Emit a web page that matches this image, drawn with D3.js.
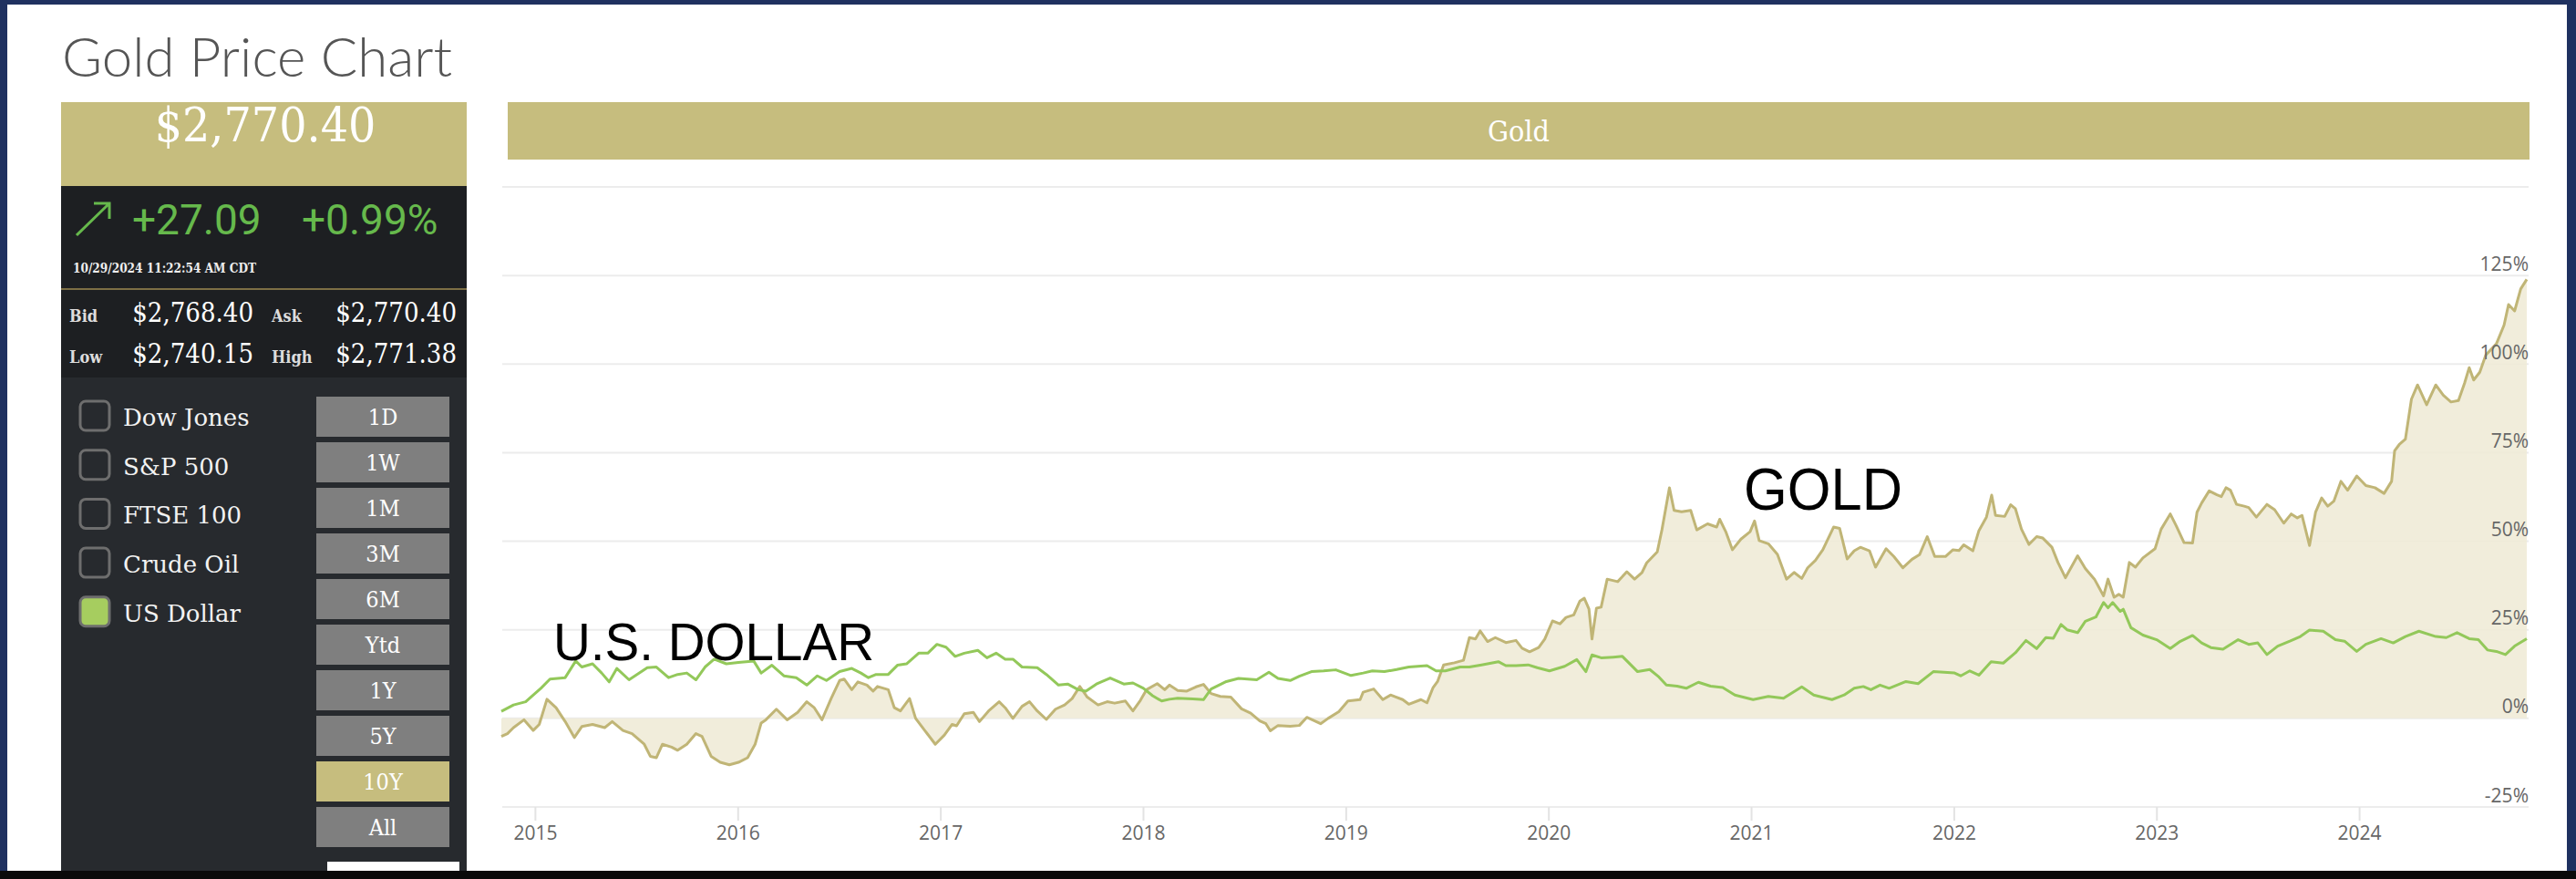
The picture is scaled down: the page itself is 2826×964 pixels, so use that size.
<!DOCTYPE html>
<html>
<head>
<meta charset="utf-8">
<script src="https://cdn.jsdelivr.net/npm/d3@7/dist/d3.min.js"></script>
<style>
  body { margin: 0; background: #1f3160; }
  svg { display: block; }
</style>
</head>
<body>
<svg id="chart"></svg>
<script>
// % change since Oct 2014, [decimal year, pct]
var goldSeries = [
  [2014.834, -5.1], [2014.864, -4.3], [2014.894, -2.6], [2014.946, -0.4], [2014.991, -3.4],
  [2015.021, -1.7], [2015.059, 5.4], [2015.104, 3.0], [2015.149, -0.9], [2015.194, -5.4],
  [2015.231, -2.3], [2015.284, -1.7], [2015.344, -2.6], [2015.381, -0.9], [2015.434, -3.4],
  [2015.479, -4.3], [2015.539, -7.3], [2015.569, -10.7], [2015.599, -11.1], [2015.629, -7.3],
  [2015.674, -8.1], [2015.704, -9.0], [2015.749, -7.3], [2015.794, -4.3], [2015.824, -5.1],
  [2015.869, -10.7], [2015.914, -12.4], [2015.959, -13.1], [2016.004, -12.4], [2016.049, -11.1],
  [2016.086, -7.3], [2016.116, -1.3], [2016.139, -0.4], [2016.191, 2.6], [2016.244, -0.4],
  [2016.296, 1.7], [2016.341, 4.7], [2016.378, 3.0], [2016.416, -0.4], [2016.461, 5.6],
  [2016.503, 10.7], [2016.525, 11.1], [2016.563, 8.1], [2016.593, 10.3], [2016.638, 9.4],
  [2016.668, 7.7], [2016.690, 9.0], [2016.743, 8.1], [2016.773, 3.0], [2016.803, 2.1],
  [2016.848, 5.6], [2016.878, 0.0], [2016.923, -3.4], [2016.975, -7.3], [2017.020, -4.7],
  [2017.058, -1.7], [2017.080, -2.1], [2017.118, 1.3], [2017.163, 1.7], [2017.193, -0.9],
  [2017.238, 2.1], [2017.290, 4.7], [2017.320, 3.0], [2017.358, 0.0], [2017.403, 3.4],
  [2017.440, 4.7], [2017.478, 2.1], [2017.523, -0.3], [2017.568, 2.6], [2017.613, 3.8],
  [2017.650, 5.6], [2017.688, 9.0], [2017.725, 6.0], [2017.778, 3.8], [2017.823, 4.7],
  [2017.860, 4.3], [2017.913, 4.9], [2017.950, 2.1], [2017.987, 5.1], [2018.017, 8.1],
  [2018.070, 9.8], [2018.107, 8.1], [2018.130, 9.4], [2018.171, 7.9], [2018.216, 7.7],
  [2018.261, 8.9], [2018.298, 9.6], [2018.336, 7.0], [2018.381, 6.2], [2018.433, 6.0],
  [2018.486, 2.7], [2018.531, 1.5], [2018.576, -0.7], [2018.606, -1.5], [2018.628, -3.5],
  [2018.666, -2.0], [2018.726, -2.2], [2018.771, -2.0], [2018.808, 0.3], [2018.876, -1.5],
  [2018.913, 0.0], [2018.966, 1.9], [2019.011, 4.9], [2019.071, 5.3], [2019.086, 7.4],
  [2019.138, 8.3], [2019.183, 5.3], [2019.221, 6.6], [2019.281, 5.3], [2019.311, 4.0],
  [2019.371, 5.3], [2019.401, 4.4], [2019.431, 8.7], [2019.453, 10.4], [2019.483, 15.1],
  [2019.536, 15.7], [2019.581, 16.4], [2019.610, 22.8], [2019.640, 22.4], [2019.663, 24.7],
  [2019.700, 21.7], [2019.738, 22.8], [2019.790, 21.4], [2019.840, 22.0], [2019.870, 19.8],
  [2019.907, 18.8], [2019.952, 20.0], [2019.982, 22.4], [2020.020, 27.5], [2020.057, 26.7],
  [2020.087, 28.5], [2020.125, 29.2], [2020.155, 33.1], [2020.177, 33.9], [2020.200, 30.9],
  [2020.215, 22.4], [2020.237, 31.1], [2020.260, 31.4], [2020.290, 39.3], [2020.342, 38.6],
  [2020.387, 41.4], [2020.425, 39.3], [2020.462, 41.2], [2020.485, 43.9], [2020.537, 47.0],
  [2020.560, 53.2], [2020.597, 65.1], [2020.620, 58.7], [2020.657, 58.3], [2020.702, 58.7],
  [2020.732, 53.2], [2020.785, 54.9], [2020.830, 54.0], [2020.845, 56.2], [2020.875, 52.7],
  [2020.908, 47.6], [2020.950, 50.6], [2020.995, 52.7], [2021.017, 55.7], [2021.040, 50.2],
  [2021.085, 49.3], [2021.130, 46.3], [2021.175, 39.3], [2021.212, 41.2], [2021.250, 39.5],
  [2021.279, 42.5], [2021.317, 44.6], [2021.354, 47.6], [2021.407, 54.0], [2021.437, 53.6],
  [2021.474, 45.0], [2021.509, 47.3], [2021.539, 48.3], [2021.584, 47.3], [2021.614, 42.7],
  [2021.666, 47.9], [2021.704, 45.7], [2021.749, 42.5], [2021.794, 44.9], [2021.831, 46.2],
  [2021.869, 51.3], [2021.906, 45.7], [2021.959, 45.7], [2021.996, 47.6], [2022.026, 47.4],
  [2022.049, 49.0], [2022.094, 47.3], [2022.124, 53.0], [2022.161, 56.8], [2022.187, 63.0],
  [2022.206, 57.3], [2022.251, 57.0], [2022.281, 60.3], [2022.304, 59.2], [2022.334, 53.4],
  [2022.371, 49.1], [2022.409, 51.3], [2022.439, 50.9], [2022.484, 48.3], [2022.514, 44.0],
  [2022.551, 39.7], [2022.611, 45.9], [2022.649, 42.3], [2022.694, 39.3], [2022.739, 34.6],
  [2022.761, 39.3], [2022.791, 34.2], [2022.814, 35.0], [2022.836, 34.2], [2022.866, 44.0],
  [2022.896, 42.7], [2022.933, 45.3], [2022.993, 47.9], [2023.023, 53.4], [2023.068, 57.7],
  [2023.098, 54.3], [2023.136, 49.6], [2023.178, 49.5], [2023.200, 58.2], [2023.223, 60.8],
  [2023.260, 64.2], [2023.298, 63.1], [2023.320, 62.6], [2023.343, 65.1], [2023.365, 64.4],
  [2023.395, 60.4], [2023.433, 59.9], [2023.455, 59.5], [2023.493, 56.8], [2023.545, 60.4],
  [2023.583, 58.9], [2023.628, 55.1], [2023.665, 57.7], [2023.695, 56.6], [2023.718, 57.3],
  [2023.755, 48.8], [2023.785, 58.2], [2023.815, 62.2], [2023.845, 59.9], [2023.875, 61.3],
  [2023.910, 66.9], [2023.943, 64.4], [2023.988, 68.4], [2024.033, 65.7], [2024.078, 65.1],
  [2024.123, 63.5], [2024.160, 66.9], [2024.175, 75.5], [2024.198, 77.3], [2024.228, 78.8],
  [2024.258, 90.1], [2024.288, 94.1], [2024.333, 88.5], [2024.378, 94.1], [2024.415, 91.2],
  [2024.453, 89.3], [2024.490, 89.7], [2024.520, 94.6], [2024.543, 99.0], [2024.565, 95.5],
  [2024.595, 97.7], [2024.625, 102.6], [2024.677, 105.7], [2024.715, 111.0], [2024.737, 116.8],
  [2024.767, 115.0], [2024.797, 121.2], [2024.827, 123.9]
];

var usdSeries = [
  [2014.834, 2.0], [2014.894, 3.8], [2014.954, 4.7], [2015.029, 8.5], [2015.074, 11.1],
  [2015.149, 11.5], [2015.201, 16.2], [2015.231, 14.5], [2015.284, 15.4], [2015.329, 12.8],
  [2015.366, 10.3], [2015.404, 14.1], [2015.464, 10.9], [2015.554, 14.3], [2015.599, 14.5],
  [2015.659, 11.5], [2015.704, 12.4], [2015.749, 12.8], [2015.794, 10.9], [2015.839, 14.5],
  [2015.884, 16.7], [2015.944, 15.4], [2016.004, 15.8], [2016.079, 16.2], [2016.116, 12.8],
  [2016.169, 15.0], [2016.228, 12.0], [2016.289, 11.5], [2016.341, 9.4], [2016.393, 12.0],
  [2016.438, 10.7], [2016.503, 13.2], [2016.563, 14.1], [2016.608, 12.8], [2016.645, 11.5],
  [2016.683, 12.4], [2016.743, 12.4], [2016.788, 15.0], [2016.833, 15.4], [2016.893, 18.4],
  [2016.938, 18.4], [2016.983, 20.9], [2017.028, 20.1], [2017.073, 17.5], [2017.118, 18.4],
  [2017.185, 19.2], [2017.230, 17.1], [2017.275, 18.4], [2017.320, 16.7], [2017.358, 16.7],
  [2017.403, 14.5], [2017.478, 14.3], [2017.523, 12.4], [2017.583, 9.4], [2017.628, 9.7],
  [2017.680, 8.1], [2017.718, 7.7], [2017.770, 9.7], [2017.838, 11.4], [2017.905, 9.7],
  [2017.950, 10.0], [2018.002, 8.5], [2018.047, 6.4], [2018.092, 4.9], [2018.130, 5.4],
  [2018.171, 5.7], [2018.246, 5.5], [2018.298, 5.3], [2018.336, 8.3], [2018.411, 10.4],
  [2018.471, 11.3], [2018.561, 10.9], [2018.621, 13.0], [2018.666, 11.3], [2018.726, 10.7],
  [2018.771, 11.9], [2018.831, 13.2], [2018.891, 13.4], [2018.951, 13.7], [2019.026, 12.1],
  [2019.086, 12.8], [2019.131, 13.4], [2019.191, 13.2], [2019.251, 13.8], [2019.311, 14.5],
  [2019.401, 14.9], [2019.446, 13.4], [2019.491, 13.4], [2019.565, 14.5], [2019.610, 14.5],
  [2019.670, 15.1], [2019.753, 16.0], [2019.790, 14.9], [2019.840, 14.9], [2019.900, 15.1],
  [2019.945, 14.3], [2020.005, 13.4], [2020.080, 14.7], [2020.140, 16.6], [2020.185, 13.2],
  [2020.215, 17.9], [2020.260, 17.1], [2020.320, 17.3], [2020.365, 17.5], [2020.440, 13.2],
  [2020.500, 13.8], [2020.545, 11.7], [2020.582, 9.4], [2020.635, 9.1], [2020.680, 8.5],
  [2020.740, 10.2], [2020.800, 9.1], [2020.860, 8.7], [2020.920, 6.6], [2021.010, 5.3],
  [2021.085, 6.2], [2021.160, 5.7], [2021.250, 8.9], [2021.309, 6.6], [2021.399, 5.3],
  [2021.459, 6.6], [2021.509, 8.5], [2021.554, 9.0], [2021.591, 8.1], [2021.636, 9.4],
  [2021.681, 8.5], [2021.764, 10.4], [2021.824, 9.8], [2021.899, 13.2], [2022.004, 12.8],
  [2022.034, 12.0], [2022.079, 13.4], [2022.124, 12.2], [2022.184, 16.0], [2022.244, 15.6],
  [2022.304, 18.5], [2022.356, 22.0], [2022.409, 19.7], [2022.454, 22.8], [2022.491, 22.6],
  [2022.529, 26.5], [2022.559, 25.0], [2022.611, 24.2], [2022.649, 27.4], [2022.701, 28.6],
  [2022.739, 32.7], [2022.761, 31.2], [2022.784, 32.7], [2022.821, 30.2], [2022.836, 30.8],
  [2022.874, 25.6], [2022.933, 23.5], [2023.001, 22.2], [2023.068, 19.7], [2023.113, 21.6],
  [2023.178, 23.4], [2023.223, 21.3], [2023.268, 20.0], [2023.328, 19.5], [2023.403, 22.2],
  [2023.455, 20.9], [2023.500, 21.3], [2023.545, 18.0], [2023.598, 20.4], [2023.658, 21.8],
  [2023.710, 23.1], [2023.755, 24.9], [2023.823, 24.6], [2023.883, 22.2], [2023.928, 21.8],
  [2023.988, 18.9], [2024.033, 20.9], [2024.108, 22.5], [2024.168, 21.3], [2024.228, 23.1],
  [2024.295, 24.6], [2024.378, 23.1], [2024.430, 22.8], [2024.483, 24.2], [2024.543, 22.5],
  [2024.588, 22.2], [2024.633, 19.3], [2024.677, 18.9], [2024.722, 18.0], [2024.767, 20.4],
  [2024.827, 22.5]
];

var yearTicks = [2015, 2016, 2017, 2018, 2019, 2020, 2021, 2022, 2023, 2024];
var gridTicks = [-25, 0, 25, 50, 75, 100, 125, 150];
var pctLabels = [-25, 0, 25, 50, 75, 100, 125];

var lastPrice = '$2,770.40';
var changeTexts = ['+27.09', '+0.99%'];
var quoteTime = '10/29/2024 11:22:54 AM CDT';
var quoteRows = [
  ['Bid', '$2,768.40', 'Ask', '$2,770.40'],
  ['Low', '$2,740.15', 'High', '$2,771.38']
];
var compareList = ['Dow Jones', 'S&P 500', 'FTSE 100', 'Crude Oil', 'US Dollar'];
var compareOn = ['US Dollar'];
var rangeButtons = ['1D', '1W', '1M', '3M', '6M', 'Ytd', '1Y', '5Y', '10Y', 'All'];
var rangeActive = '10Y';

var svgWidth = 2826, svgHeight = 964;
var gold = '#c6bd7e', green = '#66b94c';
var slab = '"DejaVu Serif Condensed", "DejaVu Serif", serif';

var svg = d3.select('#chart')
    .attr('width', svgWidth)
    .attr('height', svgHeight);

// frame around the screenshot
svg.append('rect').attr('width', svgWidth).attr('height', svgHeight).attr('fill', '#1f3160');
svg.append('rect').attr('x', 8).attr('y', 5).attr('width', 2808).attr('height', 950).attr('fill', '#ffffff');
svg.append('rect').attr('x', 0).attr('y', 955).attr('width', svgWidth).attr('height', 9).attr('fill', '#0a0a0a');

// Title
svg.append('text')
    .attr('x', 68)
    .attr('y', 84)
    .style('font-family', 'Lato')
    .style('font-weight', 300)
    .style('font-size', '60px')
    .attr('fill', '#555')
    .text('Gold Price Chart');

// ---- left quote panel ----
svg.append('rect').attr('x', 67).attr('y', 112).attr('width', 445).attr('height', 92).attr('fill', gold);
svg.append('text')
    .attr('x', 291)
    .attr('y', 155)
    .attr('text-anchor', 'middle')
    .style('font-family', slab)
    .style('font-size', '53px')
    .attr('fill', '#fff')
    .text(lastPrice);

svg.append('rect').attr('x', 67).attr('y', 204).attr('width', 445).attr('height', 210).attr('fill', '#1d1f22');
svg.append('rect').attr('x', 67).attr('y', 414).attr('width', 445).attr('height', 541).attr('fill', '#272a2e');
svg.append('line')
    .attr('x1', 67).attr('x2', 512).attr('y1', 317).attr('y2', 317)
    .attr('stroke', '#7d6f45').attr('stroke-width', 2);

// up arrow
svg.append('path')
    .attr('d', 'M84,258 L120,223 M103,223 L120,223 L120,240')
    .attr('fill', 'none')
    .attr('stroke', green)
    .attr('stroke-width', 3);

svg.selectAll('.change')
    .data(changeTexts)
    .enter()
    .append('text')
    .attr('class', 'change')
    .attr('x', function (d, i) { return i == 0 ? 145 : 331; })
    .attr('y', 257)
    .style('font-family', 'Roboto')
    .style('font-size', '46px')
    .attr('fill', green)
    .text(function (d) { return d; });

svg.append('text')
    .attr('x', 80)
    .attr('y', 299)
    .attr('textLength', 201)
    .attr('lengthAdjust', 'spacingAndGlyphs')
    .style('font-family', slab)
    .style('font-weight', 'bold')
    .style('font-size', '14px')
    .attr('fill', '#eee')
    .text(quoteTime);

var rows = svg.selectAll('.qrow')
    .data(quoteRows)
    .enter()
    .append('g')
    .attr('class', 'qrow')
    .attr('transform', function (d, i) { return 'translate(0,' + (353 + i * 45) + ')'; });

rows.each(function (r) {
    var row = d3.select(this);
    [[76, 278], [298, 501]].forEach(function (pos, k) {
        row.append('text')
            .attr('x', pos[0])
            .style('font-family', slab)
            .style('font-weight', 'bold')
            .style('font-size', '18px')
            .attr('fill', '#ddd')
            .text(r[k * 2]);
        row.append('text')
            .attr('x', pos[1])
            .attr('text-anchor', 'end')
            .style('font-family', slab)
            .style('font-size', '29px')
            .attr('fill', '#fff')
            .text(r[k * 2 + 1]);
    });
});

// compare checkboxes
var checks = svg.selectAll('.cmp')
    .data(compareList)
    .enter()
    .append('g')
    .attr('class', 'cmp')
    .attr('transform', function (d, i) { return 'translate(87,' + (439 + i * 53.7) + ')'; });

checks.append('rect')
    .attr('width', 32).attr('height', 32).attr('x', 1).attr('y', 1)
    .attr('rx', 6)
    .attr('fill', function (d) { return compareOn.indexOf(d) >= 0 ? '#a6cd5f' : 'none'; })
    .attr('stroke', '#6e6e6e')
    .attr('stroke-width', 3);

checks.append('text')
    .attr('x', 48)
    .attr('y', 28)
    .style('font-family', '"DejaVu Serif", serif')
    .style('font-size', '26px')
    .attr('fill', '#f2f2f2')
    .text(function (d) { return d; });

// range buttons
var btns = svg.selectAll('.rng')
    .data(rangeButtons)
    .enter()
    .append('g')
    .attr('class', 'rng')
    .attr('transform', function (d, i) { return 'translate(347,' + (435 + i * 50) + ')'; });

btns.append('rect')
    .attr('width', 146).attr('height', 44)
    .attr('fill', function (d) { return d == rangeActive ? gold : '#7f7f7f'; });

btns.append('text')
    .attr('x', 73)
    .attr('y', 31)
    .attr('text-anchor', 'middle')
    .style('font-family', slab)
    .style('font-size', '25px')
    .attr('fill', '#fff')
    .text(function (d) { return d; });

svg.append('rect').attr('x', 359).attr('y', 945).attr('width', 145).attr('height', 10).attr('fill', '#fff');

// ---- chart ----
var xScale = d3.scaleLinear().domain(d3.extent(goldSeries, function (d) { return d[0]; })).range([550, 2772]),
    yScale = d3.scaleLinear().domain([-25, 150]).range([885, 205]);

svg.append('rect').attr('x', 557).attr('y', 112).attr('width', 2218).attr('height', 63).attr('fill', gold);
svg.append('text')
    .attr('x', 1666)
    .attr('y', 155)
    .attr('text-anchor', 'middle')
    .style('font-family', slab)
    .style('font-size', '32px')
    .attr('fill', '#fff')
    .text('Gold');

// grid
svg.append('g')
    .selectAll('line')
    .data(gridTicks)
    .enter()
    .append('line')
    .attr('x1', 551).attr('x2', 2774)
    .attr('y1', function (d) { return yScale(d); })
    .attr('y2', function (d) { return yScale(d); })
    .attr('stroke', '#ececec')
    .attr('stroke-width', 2);

var area = d3.area()
    .x(function (d) { return xScale(d[0]); })
    .y0(yScale(0))
    .y1(function (d) { return yScale(d[1]); });

svg.append('path')
    .datum(goldSeries)
    .attr('d', area)
    .style('fill', '#f0ebd7')
    .style('fill-opacity', 0.9);

var line = d3.line()
    .x(function (d) { return xScale(d[0]); })
    .y(function (d) { return yScale(d[1]); });

svg.append('path')
    .datum(goldSeries)
    .attr('d', line)
    .style('fill', 'none')
    .style('stroke', '#c0b576')
    .style('stroke-width', 3)
    .style('stroke-linejoin', 'round');

svg.append('path')
    .datum(usdSeries)
    .attr('d', line)
    .style('fill', 'none')
    .style('stroke', '#93c85a')
    .style('stroke-width', 3)
    .style('stroke-linejoin', 'round');

// y labels sit above the grid lines, right aligned
var yAxis = svg.append('g')
    .attr('transform', 'translate(2774,0)')
    .call(d3.axisLeft(yScale).tickValues(pctLabels).tickSize(0).tickPadding(0)
        .tickFormat(function (d) { return d + '%'; }));
yAxis.select('.domain').remove();
yAxis.selectAll('text')
    .attr('dy', -6)
    .style('font-family', '"Open Sans"')
    .style('font-size', '21px')
    .attr('fill', '#666');

var xAxis = svg.append('g')
    .attr('transform', 'translate(0,885)')
    .call(d3.axisBottom(xScale).tickValues(yearTicks).tickSize(15).tickPadding(6)
        .tickFormat(d3.format('d')));
xAxis.select('.domain').remove();
xAxis.selectAll('line').attr('stroke', '#e3e3e3').attr('stroke-width', 2);
xAxis.selectAll('text')
    .style('font-family', '"Open Sans"')
    .style('font-size', '21px')
    .attr('fill', '#666');

// annotations
svg.append('text')
    .attr('x', 607)
    .attr('y', 724)
    .attr('textLength', 352)
    .attr('lengthAdjust', 'spacingAndGlyphs')
    .style('font-family', '"Liberation Sans", Arial')
    .style('font-size', '57px')
    .attr('fill', '#000')
    .text('U.S. DOLLAR');

svg.append('text')
    .attr('x', 1913)
    .attr('y', 559)
    .attr('textLength', 174)
    .attr('lengthAdjust', 'spacingAndGlyphs')
    .style('font-family', '"Liberation Sans", Arial')
    .style('font-size', '64px')
    .attr('fill', '#000')
    .text('GOLD');
</script>
</body>
</html>
